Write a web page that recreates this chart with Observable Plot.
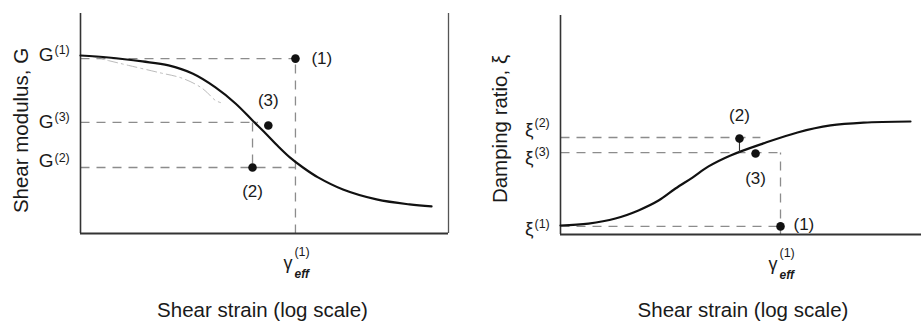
<!DOCTYPE html>
<html>
<head>
<meta charset="utf-8">
<script src="https://cdn.jsdelivr.net/npm/d3@7"></script>
<script src="https://cdn.jsdelivr.net/npm/@observablehq/plot@0.6"></script>
<style>
  html, body { margin: 0; padding: 0; background: #fff; }
  #wrap { display: flex; flex-direction: row; width: 921px; height: 324px; }
  #wrap svg { flex: none; }
</style>
</head>
<body>
<div id="wrap"></div>
<script>
// ---------- Left panel: shear modulus vs shear strain (log) ----------
const gStrain  = [1e-4, 2.01e-4, 4.72e-4, 9.06e-4, 1.65e-3, 2.93e-3, 4.84e-3, 7.41e-3, 0.0103, 0.0138, 0.0190, 0.0262, 0.0382, 0.0713, 0.165, 0.377, 0.654];
const gModulus = [80.9, 80.0, 78.2, 76.4, 72.7, 66.4, 59.1, 51.4, 45.5, 40.0, 34.5, 30.0, 25.5, 20.0, 15.5, 13.2, 12.3];
const gFaintStrain  = [1.22e-4, 2.01e-4, 3.33e-4, 7.05e-4, 1.29e-3, 2.12e-3, 2.93e-3, 3.33e-3];
const gFaintModulus = [80.9, 78.6, 76.4, 73.2, 70.5, 65.9, 60.5, 59.5];
const pointLabels = ["(1)", "(2)", "(3)"];
const gPointStrain  = [0.0217, 0.00741, 0.0110];
const gPointModulus = [79.5, 30.0, 49.1];
const gLevels = [79.5, 30.0, 50.5];          // G(1), G(2), G(3)
const gLevelSymbol = "G";
const gGuideX1 = [1e-4, 1e-4, 1e-4, 0.0217, 0.00741];
const gGuideX2 = [0.0217, 0.0217, 0.0085, 0.0217, 0.00741];
const gGuideY1 = [79.5, 30.0, 50.5, 0, 50.5];
const gGuideY2 = [79.5, 30.0, 50.5, 79.5, 30.0];
const gGammaEff = 0.0217;
const gYLabel = "Shear modulus, G";

// ---------- Right panel: damping ratio vs shear strain (log) ----------
const dStrain  = [1e-4, 2.04e-4, 4.06e-4, 7.31e-4, 1.22e-3, 1.88e-3, 2.90e-3, 4.37e-3, 7.66e-3, 0.0177, 0.0423, 0.0982, 0.228, 0.755];
const dDamping = [4.1, 5.0, 7.3, 11.0, 15.5, 21.0, 26.0, 31.1, 36.1, 41.6, 46.6, 49.8, 51.1, 51.6];
const dPointStrain  = [0.0274, 0.00962, 0.0145];
const dPointDamping = [3.7, 43.8, 37.0];
const dLevels = [3.7, 44.3, 37.4];           // ξ(1), ξ(2), ξ(3)
const dLevelSymbol = "ξ";
const dGuideX1 = [1e-4, 1e-4, 1e-4, 0.0274];
const dGuideX2 = [0.0274, 0.0164, 0.0274, 0.0274];
const dGuideY1 = [3.7, 44.3, 37.4, 0];
const dGuideY2 = [3.7, 44.3, 37.4, 37.4];
const dStemY = [43.8, 37.6];
const dGammaEff = 0.0274;
const dYLabel = "Damping ratio, ξ";

const xLabel = "Shear strain (log scale)";
const gammaMain = "γ", gammaSup = "(1)", gammaSub = "eff";

const FONT = "'Liberation Sans', Arial, Helvetica, sans-serif";
const INK = "#1a1a1a";
const DASH = "#8c8c8c";
const idx = n => d3.range(n);

function levelLabels(levels, symbol, ySym, ySup) {
  const marks = [];
  levels.forEach((lv, i) => {
    marks.push(Plot.text([lv], {x: () => 1e-4, y: d => d, text: () => symbol, textAnchor: "end",
      dx: -27, dy: ySym[i], fontSize: 19, fill: INK}));
    marks.push(Plot.text([lv], {x: () => 1e-4, y: d => d, text: () => pointLabels[i], textAnchor: "start",
      dx: -26, dy: ySup[i], fontSize: 12.5, fill: INK}));
  });
  return marks;
}

function pointLabelMarks(xs, ys, offs) {
  return offs.map((o, i) => Plot.text([i], {x: j => xs[j], y: j => ys[j], text: j => pointLabels[j],
    dx: o[0], dy: o[1], textAnchor: o[2] || "middle", fontSize: 17, fill: INK}));
}

function gammaMarks(gx) {
  return [
    Plot.text([gx], {x: d => d, y: () => 0, text: () => gammaMain, textAnchor: "end", dx: -3, dy: 30, fontSize: 18, fill: INK}),
    Plot.text([gx], {x: d => d, y: () => 0, text: () => gammaSup, textAnchor: "start", dx: -1, dy: 18, fontSize: 12.5, fill: INK}),
    Plot.text([gx], {x: d => d, y: () => 0, text: () => gammaSub, textAnchor: "start", dx: -1, dy: 41, fontSize: 12, fontStyle: "italic", fontWeight: "bold", fill: INK})
  ];
}

const baseStyle = {fontFamily: FONT, fontSize: "18px", color: INK, background: "#fff", overflow: "visible"};

const left = Plot.plot({
  width: 460, height: 324,
  marginLeft: 80, marginRight: 12, marginTop: 13, marginBottom: 91,
  x: {type: "log", domain: [1e-4, 1], axis: null},
  y: {domain: [0, 100], axis: null},
  style: baseStyle,
  marks: [
    Plot.link(idx(gGuideX1.length), {x1: i => gGuideX1[i], x2: i => gGuideX2[i], y1: i => gGuideY1[i], y2: i => gGuideY2[i],
      stroke: DASH, strokeWidth: 1.3, strokeDasharray: "9,7"}),
    Plot.ruleX([1e-4], {y1: 0, y2: 100, stroke: "#333", strokeWidth: 1.6}),
    Plot.ruleX([1], {y1: 0, y2: 100, stroke: "#555", strokeWidth: 1.3}),
    Plot.ruleY([0], {x1: 1e-4, x2: 1, stroke: "#333", strokeWidth: 1.8}),
    Plot.line(idx(gFaintStrain.length), {x: i => gFaintStrain[i], y: i => gFaintModulus[i], curve: "catmull-rom",
      stroke: "#bcbcbc", strokeWidth: 1.0, strokeDasharray: "10,4,2,4"}),
    Plot.line(idx(gStrain.length), {x: i => gStrain[i], y: i => gModulus[i], curve: "catmull-rom", stroke: "#111", strokeWidth: 2.2}),
    Plot.dot(idx(gPointStrain.length), {x: i => gPointStrain[i], y: i => gPointModulus[i], r: 4.3, fill: "#111", stroke: "none"}),
    ...pointLabelMarks(gPointStrain, gPointModulus, [[16, 0, "start"], [0, 24], [0, -25]]),
    ...levelLabels(gLevels, gLevelSymbol, [-4, -7, 0], [-9, -10, -5]),
    ...gammaMarks(gGammaEff),
    Plot.text([gYLabel], {frameAnchor: "left", text: d => d, rotate: -90, textAnchor: "middle", lineAnchor: "middle",
      dx: -59, dy: 7, fontSize: 20.5, fill: INK}),
    Plot.text([xLabel], {frameAnchor: "bottom", text: d => d, textAnchor: "middle", lineAnchor: "middle",
      dx: -2, dy: 77, fontSize: 20.5, fill: INK})
  ]
});

const right = Plot.plot({
  width: 461, height: 324,
  marginLeft: 100, marginRight: 0, marginTop: 15, marginBottom: 90,
  x: {type: "log", domain: [1e-4, 1], axis: null},
  y: {domain: [0, 100], axis: null},
  style: baseStyle,
  marks: [
    Plot.link(idx(dGuideX1.length), {x1: i => dGuideX1[i], x2: i => dGuideX2[i], y1: i => dGuideY1[i], y2: i => dGuideY2[i],
      stroke: DASH, strokeWidth: 1.3, strokeDasharray: "9,7"}),
    Plot.ruleX([1e-4], {y1: 0, y2: 100, stroke: "#333", strokeWidth: 1.6}),
    Plot.ruleY([0], {x1: 1e-4, x2: 1, stroke: "#333", strokeWidth: 1.8}),
    Plot.line(idx(dStrain.length), {x: i => dStrain[i], y: i => dDamping[i], curve: "catmull-rom", stroke: "#111", strokeWidth: 2.2}),
    Plot.link([dPointStrain[1]], {x1: d => d, x2: d => d, y1: () => dStemY[0], y2: () => dStemY[1], stroke: "#333", strokeWidth: 1.1}),
    Plot.dot(idx(dPointStrain.length), {x: i => dPointStrain[i], y: i => dPointDamping[i], r: 4.3, fill: "#111", stroke: "none"}),
    ...pointLabelMarks(dPointStrain, dPointDamping, [[13, -2, "start"], [0, -23], [0, 25]]),
    ...levelLabels(dLevels, dLevelSymbol, [3, -8, 5], [-2, -14, -1]),
    ...gammaMarks(dGammaEff),
    Plot.text([dYLabel], {frameAnchor: "left", text: d => d, rotate: -90, textAnchor: "middle", lineAnchor: "middle",
      dx: -60, dy: 4, fontSize: 20.5, fill: INK}),
    Plot.text([xLabel], {frameAnchor: "bottom", text: d => d, textAnchor: "middle", lineAnchor: "middle",
      dx: 2, dy: 76, fontSize: 20.5, fill: INK})
  ]
});

document.getElementById("wrap").append(left, right);
</script>
</body>
</html>
